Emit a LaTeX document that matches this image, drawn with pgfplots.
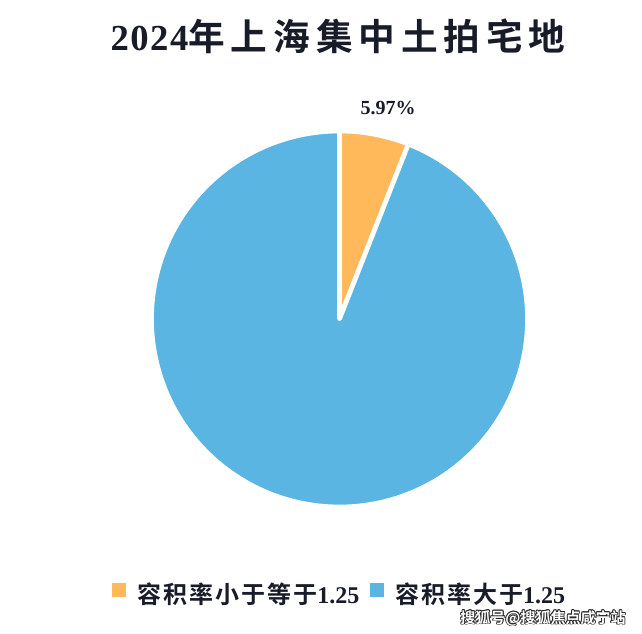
\documentclass[border=0pt]{standalone}
\usepackage{fontspec}
\usepackage{pgfplots}
\usepackage{pgfplotstable}
\pgfplotsset{compat=1.18}
\setmainfont{Liberation Serif}
\newfontfamily\cjktitle{Noto Sans CJK SC Bold}[LetterSpace=16]
\newfontfamily\cjklegend{Noto Sans CJK SC Bold}[LetterSpace=8]
\newfontfamily\cjkmark{Noto Sans CJK SC Bold}
\newfontfamily\digits{Liberation Serif}[LetterSpace=4]
\newfontfamily\legdigits{Liberation Serif}[LetterSpace=0]

\definecolor{sliceorange}{RGB}{255,185,90}
\definecolor{sliceblue}{RGB}{91,181,227}
\definecolor{textdark}{RGB}{24,27,40}

% shares of the two plot-ratio groups, in percent
\pgfplotstableread{
share
5.97
94.03
}\piedata
\pgfplotstablegetelem{0}{share}\of\piedata \let\shareA\pgfplotsretval
\pgfplotstablegetelem{1}{share}\of\piedata \let\shareB\pgfplotsretval

% pie geometry (axis units = pixels of the canvas)
\def\cx{339.5}
\def\cy{314}
\def\R{188}
\pgfmathsetmacro{\angA}{90-3.6*\shareA}   % orange slice: clockwise from 12 o'clock
\pgfmathsetmacro{\angB}{\angA-3.6*\shareB}
\pgfmathsetmacro{\angMid}{90-1.8*\shareA}
\pgfmathsetmacro{\lx}{\cx+1.16*\R*cos(\angMid)+8}
\pgfmathsetmacro{\ly}{\cy+1.16*\R*sin(\angMid)-3}

\begin{document}
\begin{tikzpicture}
\begin{axis}[
  scale only axis, width=481.5pt, height=474.75pt,
  xmin=0, xmax=642, ymin=0, ymax=633,
  hide axis, clip=false,
  legend columns=2,
  legend cell align=left,
  legend style={
    draw=none, fill=none, inner sep=0pt,
    at={(axis cs:112,39)}, anchor=west,
    nodes={inner sep=0pt, text=textdark, font=\fontsize{18pt}{20pt}\selectfont},
    /tikz/every odd column/.append style={column sep=9pt},
    /tikz/every even column/.append style={column sep=8pt},
  },
]
\path (axis cs:0,0) rectangle (axis cs:642,633);

\addplot[fill=sliceorange, draw=white, line width=3.5pt, line join=round,
  domain=\angA:90, samples=40, forget plot]
  ({\cx+\R*cos(x)},{\cy+\R*sin(x)}) -- (axis cs:\cx,\cy) -- cycle;
\addplot[fill=sliceblue, draw=white, line width=3.5pt, line join=round,
  domain=\angB:\angA, samples=200, forget plot]
  ({\cx+\R*cos(x)},{\cy+\R*sin(x)}) -- (axis cs:\cx,\cy) -- cycle;

\addlegendimage{legend image code/.code={\fill[sliceorange] (0pt,-1.25pt) rectangle (9.75pt,8.5pt);}}
\addlegendentry{{\cjklegend 容积率小于等于}{\legdigits\bfseries 1.25}}
\addlegendimage{legend image code/.code={\fill[sliceblue] (0pt,-1.25pt) rectangle (9.75pt,8.5pt);}}
\addlegendentry{{\cjklegend 容积率大于}{\legdigits\bfseries 1.25}}

% value label of the small slice
\node[text=textdark, font=\fontsize{15pt}{17pt}\selectfont\bfseries]
  at (axis cs:\lx,\ly) {\shareA\%};

% title
\node[anchor=base, text=textdark, font=\fontsize{27.5pt}{32pt}\selectfont]
  at (axis cs:338,582) {{\digits\bfseries 2024}{\cjktitle 年上海集中土拍宅地}};

\coordinate (srcmark) at (axis cs:543,15);
\end{axis}
% source mark: white text with a dark outline
\foreach \dx/\dy in {0.7/0,-0.7/0,0/0.7,0/-0.7,0.5/0.5,-0.5/0.5,0.5/-0.5,-0.5/-0.5}{
  \node[text=black!85, font=\fontsize{11.25pt}{13pt}\cjkmark, xshift=\dx pt, yshift=\dy pt]
    at (srcmark) {搜狐号@搜狐焦点咸宁站};
}
\node[text=white, font=\fontsize{11.25pt}{13pt}\cjkmark] at (srcmark) {搜狐号@搜狐焦点咸宁站};
\end{tikzpicture}
\end{document}
